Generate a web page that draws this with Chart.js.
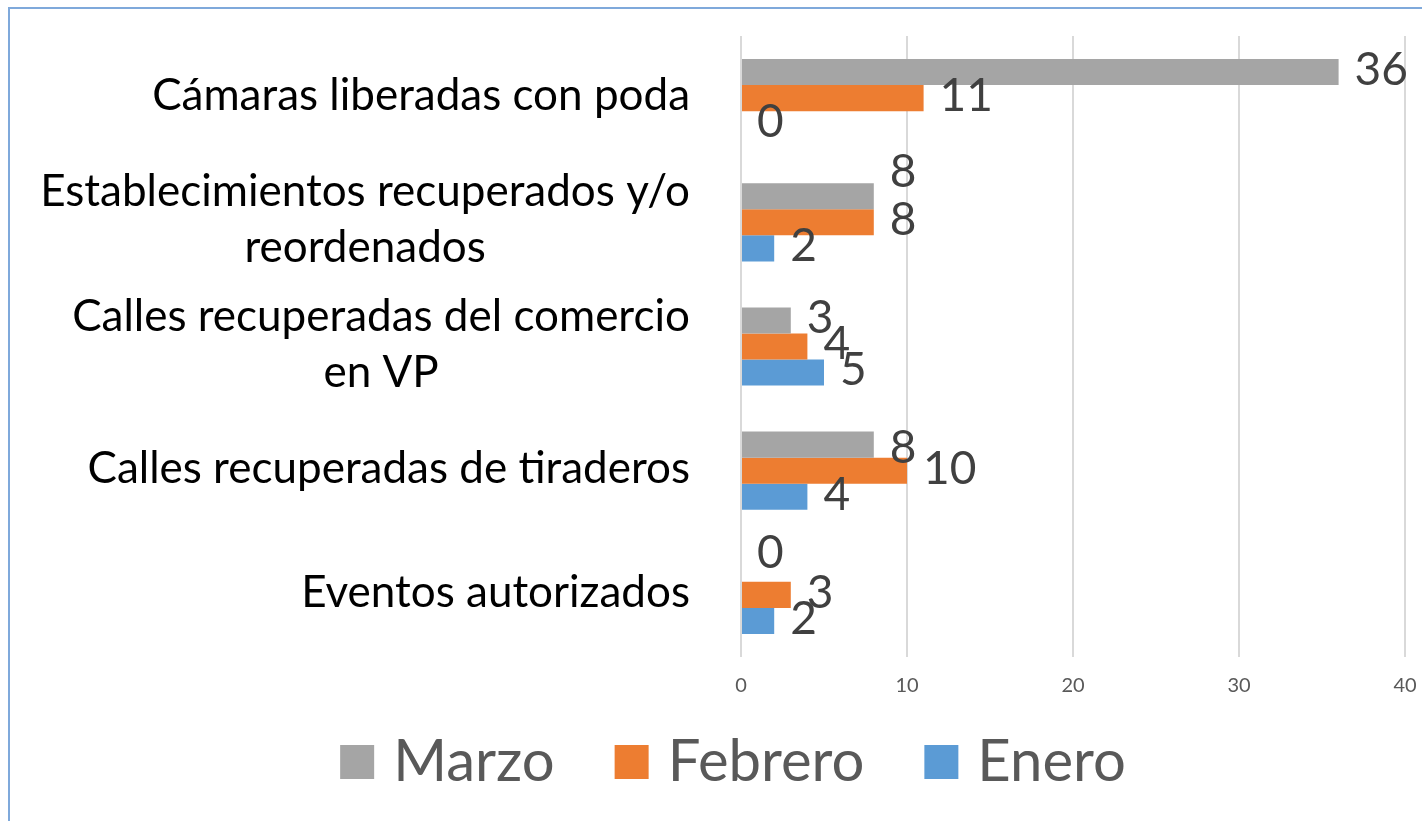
<!DOCTYPE html>
<html>
<head>
<meta charset="utf-8">
<script src="https://cdn.jsdelivr.net/npm/chart.js@4.4.0/dist/chart.umd.min.js"></script>
<style>
  html, body { margin: 0; padding: 0; background: #fff; }
  #wrap { position: relative; width: 1422px; height: 821px; overflow: hidden; }
  #frame { position: absolute; left: 8px; top: 7px; width: 1500px; height: 900px;
           border-left: 2px solid #7fa9db; border-top: 2px solid #7fa9db; }
  canvas { position: absolute; left: 0; top: 0; }
</style>
</head>
<body>
<div id="wrap">
  <div id="frame"></div>
  <canvas id="chartRes" width="1422" height="821"></canvas>
</div>
<script>
// categories, top to bottom
const categories = [
    ['Cámaras liberadas con poda'],
    ['Establecimientos recuperados y/o', 'reordenados'],
    ['Calles recuperadas del comercio', 'en VP'],
    ['Calles recuperadas de tiraderos'],
    ['Eventos autorizados']
];
const marzo = [36, 8, 3, 8, 0];
const febrero = [11, 8, 4, 10, 3];
const enero = [0, 2, 5, 4, 2];
const xTicks = [0, 10, 20, 30, 40];

// label nudges (px) where the original labels were moved by hand
const labelNudge = { '0-1': -22, '0-4': -14, '0-3': 6 };

const textGrey = '#404040';
const fontFam = 'Lato, "Open Sans", sans-serif';

// category labels: right aligned block, lines centered inside
const catLabels = {
    id: 'catLabels',
    afterDraw(chart) {
        const ctx = chart.ctx;
        const y = chart.scales.y;
        const right = chart.chartArea.left - 51;
        ctx.save();
        ctx.font = '44px ' + fontFam;
        ctx.fillStyle = '#000';
        ctx.textAlign = 'center';
        ctx.textBaseline = 'middle';
        const lh = 56;
        categories.forEach((lines, i) => {
            const maxW = Math.max(...lines.map(l => ctx.measureText(l).width));
            const cx = right - maxW / 2;
            const cy = y.getPixelForValue(i);
            lines.forEach((l, k) => {
                ctx.fillText(l, cx, cy + (k - (lines.length - 1) / 2) * lh - 2);
            });
        });
        ctx.restore();
    }
};

// value labels beside bars
const valueLabels = {
    id: 'valueLabels',
    afterDatasetsDraw(chart) {
        const ctx = chart.ctx;
        ctx.save();
        ctx.font = '46px ' + fontFam;
        ctx.fillStyle = textGrey;
        ctx.textAlign = 'left';
        ctx.textBaseline = 'middle';
        chart.data.datasets.forEach((ds, d) => {
            chart.getDatasetMeta(d).data.forEach((bar, i) => {
                const nudge = labelNudge[d + '-' + i] || 0;
                ctx.fillText(String(ds.data[i]), bar.x + 16, bar.y - 2 + nudge);
            });
        });
        ctx.restore();
    }
};

// legend drawn under the axis
const bottomLegend = {
    id: 'bottomLegend',
    afterDraw(chart) {
        const ctx = chart.ctx;
        const box = 34, gapText = 19, gapItem = 60, cy = 762;
        ctx.save();
        ctx.font = '58px ' + fontFam;
        ctx.textBaseline = 'middle';
        const items = chart.data.datasets.map(ds => ({ label: ds.label, color: ds.backgroundColor, w: ctx.measureText(ds.label).width }));
        const total = items.reduce((s, it) => s + box + gapText + it.w, 0) + gapItem * (items.length - 1);
        let x = 733 - total / 2;
        items.forEach(it => {
            ctx.fillStyle = it.color;
            ctx.fillRect(x, cy - box / 2, box, box);
            x += box + gapText;
            ctx.fillStyle = '#595959';
            ctx.fillText(it.label, x, cy);
            x += it.w + gapItem;
        });
        ctx.restore();
    }
};

const ctx = document.getElementById('chartRes').getContext('2d');
const chartRes = new Chart(ctx, {
    type: 'bar',
    data: {
        labels: categories.map(c => c.join(' ')),
        datasets: [
            { label: 'Marzo', data: marzo, backgroundColor: '#a5a5a5' },
            { label: 'Febrero', data: febrero, backgroundColor: '#ed7d31' },
            { label: 'Enero', data: enero, backgroundColor: '#5b9bd5' }
        ]
    },
    options: {
        indexAxis: 'y',
        responsive: false,
        animation: false,
        categoryPercentage: 0.63,
        barPercentage: 1,
        layout: { padding: { top: 36, right: 17, bottom: 106, left: 0 } },
        plugins: {
            legend: { display: false },
            tooltip: { enabled: false }
        },
        scales: {
            x: {
                min: 0,
                max: 40,
                afterBuildTicks(scale) { scale.ticks = xTicks.map(v => ({ value: v })); },
                afterFit(scale) { scale.paddingLeft = 0; scale.paddingRight = 9; },
                grid: { color: '#d9d9d9', lineWidth: 2, drawTicks: false },
                border: { display: false },
                ticks: { color: '#595959', font: { size: 20, family: fontFam }, padding: 17 }
            },
            y: {
                grid: { display: false },
                border: { display: false },
                ticks: { display: false },
                afterFit(scale) { scale.width = 741; }
            }
        }
    },
    plugins: [catLabels, valueLabels, bottomLegend]
});
</script>
</body>
</html>
